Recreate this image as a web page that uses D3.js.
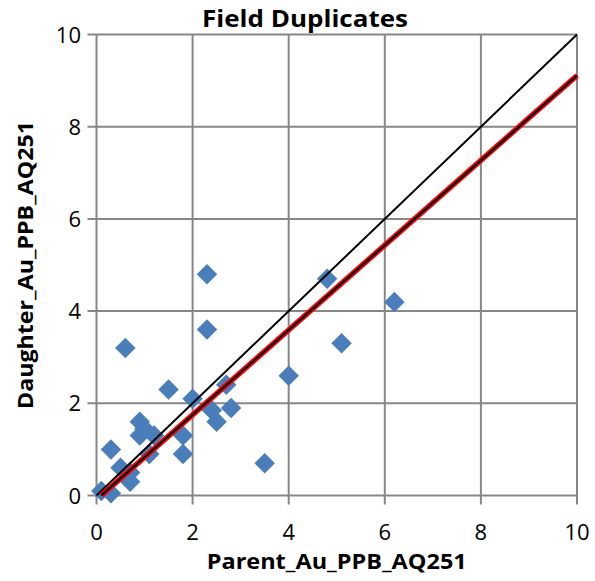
<!DOCTYPE html>
<html lang="en">
<head>
    <meta charset="UTF-8">
    <title>Field Duplicates</title>
    <style>
        body { margin: 0; padding: 0; background: #fff; }
        svg { display: block; }
        text { font-family: "Open Sans", sans-serif; fill: #000; }
    </style>
</head>
<body>
    <script src="https://d3js.org/d3.v7.min.js"></script>
    <script>
        // Parent vs daughter duplicate values (ppb)
        const parent   = [0.1, 0.3, 0.3, 0.5, 0.6, 0.7, 0.7, 0.9, 0.9, 1.0, 1.1, 1.2, 1.5, 1.8, 1.8, 2.0, 2.3, 2.3, 2.4, 2.5, 2.7, 2.8, 3.5, 4.0, 4.8, 5.1, 6.2];
        const daughter = [0.1, 0.05, 1.0, 0.6, 3.2, 0.5, 0.3, 1.6, 1.3, 1.45, 0.9, 1.3, 2.3, 1.3, 0.9, 2.1, 4.8, 3.6, 1.85, 1.6, 2.4, 1.9, 0.7, 2.6, 4.7, 3.3, 4.2];
        const ticks = [0, 2, 4, 6, 8, 10];
        const oneToOne = [[0, 0], [10, 10]];
        // trend line: y = slope * x + intercept
        const trendSlope = 0.92;
        const trendIntercept = -0.09;
        const trendRange = [0.1, 10];

        const width = 595, height = 581;
        const plot = { left: 96.5, right: 577, top: 34.5, bottom: 495.5 };

        const svg = d3.select('body').append('svg')
            .attr('width', width)
            .attr('height', height);

        const x = d3.scaleLinear().domain([0, 10]).range([plot.left, plot.right]);
        const y = d3.scaleLinear().domain([0, 10]).range([plot.bottom, plot.top]);

        const gridColor = '#878787';

        // gridlines (with the outside tick stubs)
        svg.append('g').selectAll('line')
            .data(ticks)
            .enter().append('line')
            .attr('x1', d => x(d)).attr('x2', d => x(d))
            .attr('y1', plot.top).attr('y2', plot.bottom + 9)
            .attr('stroke', gridColor).attr('stroke-width', 2);

        svg.append('g').selectAll('line')
            .data(ticks)
            .enter().append('line')
            .attr('x1', plot.left - 9).attr('x2', plot.right)
            .attr('y1', d => y(d)).attr('y2', d => y(d))
            .attr('stroke', gridColor).attr('stroke-width', 2);

        // tick labels
        svg.append('g').selectAll('text')
            .data(ticks)
            .enter().append('text')
            .attr('x', d => x(d))
            .attr('y', 540)
            .attr('text-anchor', 'middle')
            .attr('font-size', 22)
            .text(d => d);

        svg.append('g').selectAll('text')
            .data(ticks)
            .enter().append('text')
            .attr('x', 81)
            .attr('y', d => y(d) + 8)
            .attr('text-anchor', 'end')
            .attr('font-size', 22)
            .text(d => d);

        // data points (diamonds)
        const pts = parent.map((p, i) => ({ x: p, y: daughter[i] }));
        const diamond = d3.symbol().type(d3.symbolSquare).size(210);
        svg.append('g').selectAll('path')
            .data(pts)
            .enter().append('path')
            .attr('d', diamond)
            .attr('transform', d => `translate(${x(d.x)},${y(d.y)}) rotate(45)`)
            .attr('fill', '#4a7ebb');

        // 1:1 line
        const line = d3.line().x(d => x(d[0])).y(d => y(d[1]));
        svg.append('path')
            .attr('d', line(oneToOne))
            .attr('fill', 'none')
            .attr('stroke', '#000')
            .attr('stroke-width', 2);

        // trend line: red with black core
        const trend = trendRange.map(v => [v, trendSlope * v + trendIntercept]);
        svg.append('path')
            .attr('d', line(trend))
            .attr('fill', 'none')
            .attr('stroke', '#ff0000')
            .attr('stroke-width', 5.5);
        svg.append('path')
            .attr('d', line(trend))
            .attr('fill', 'none')
            .attr('stroke', '#000')
            .attr('stroke-width', 2.2);

        // title and axis labels
        svg.append('text')
            .attr('x', 305).attr('y', 27)
            .attr('text-anchor', 'middle')
            .attr('font-size', 23).attr('font-weight', 'bold')
            .attr('textLength', 206).attr('lengthAdjust', 'spacingAndGlyphs')
            .text('Field Duplicates');

        svg.append('text')
            .attr('x', (plot.left + plot.right) / 2).attr('y', 569)
            .attr('text-anchor', 'middle')
            .attr('font-size', 20.5).attr('font-weight', 'bold')
            .attr('textLength', 260).attr('lengthAdjust', 'spacingAndGlyphs')
            .text('Parent_Au_PPB_AQ251');

        svg.append('text')
            .attr('transform', `translate(33,${(plot.top + plot.bottom) / 2}) rotate(-90)`)
            .attr('text-anchor', 'middle')
            .attr('font-size', 20.5).attr('font-weight', 'bold')
            .attr('textLength', 288).attr('lengthAdjust', 'spacingAndGlyphs')
            .text('Daughter_Au_PPB_AQ251');
    </script>
</body>
</html>
